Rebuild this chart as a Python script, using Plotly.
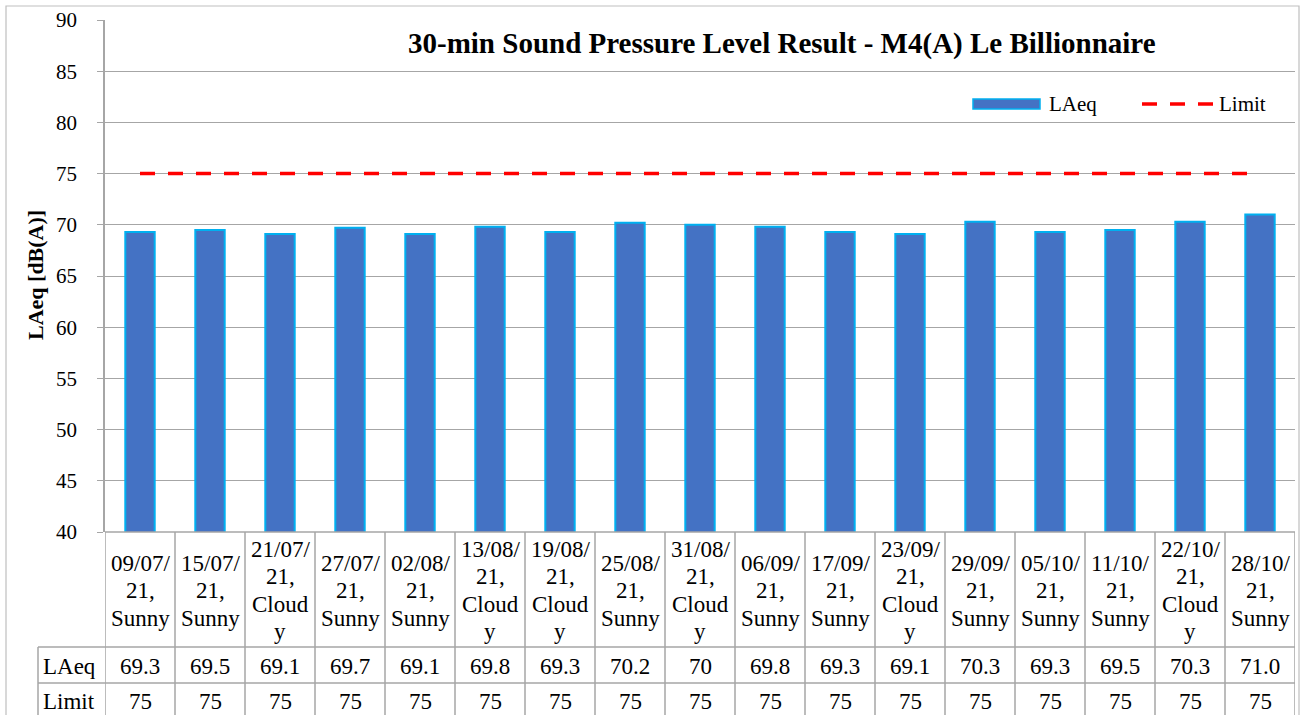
import plotly.graph_objects as go

# ---------------- data ----------------
dates = ["09/07/21", "15/07/21", "21/07/21", "27/07/21", "02/08/21", "13/08/21",
         "19/08/21", "25/08/21", "31/08/21", "06/09/21", "17/09/21", "23/09/21",
         "29/09/21", "05/10/21", "11/10/21", "22/10/21", "28/10/21"]
weather = ["Sunny", "Sunny", "Cloudy", "Sunny", "Sunny", "Cloudy", "Cloudy", "Sunny",
           "Cloudy", "Sunny", "Sunny", "Cloudy", "Sunny", "Sunny", "Sunny", "Cloudy", "Sunny"]
laeq = [69.3, 69.5, 69.1, 69.7, 69.1, 69.8, 69.3, 70.2, 70.0, 69.8, 69.3, 69.1,
        70.3, 69.3, 69.5, 70.3, 71.0]
laeq_text = ["69.3", "69.5", "69.1", "69.7", "69.1", "69.8", "69.3", "70.2", "70",
             "69.8", "69.3", "69.1", "70.3", "69.3", "69.5", "70.3", "71.0"]
limit = [75] * 17
y_ticks = [40, 45, 50, 55, 60, 65, 70, 75, 80, 85, 90]

categories = [f"{d}, {w}" for d, w in zip(dates, weather)]
n = len(categories)

# ---------------- geometry helpers ----------------
FIG_W, FIG_H = 1305, 715
L, R, T, B = 105, 1295, 20, 532
PW, PH = R - L, B - T


def px2x(px):
    return (px - L) / PW


def py2y(py):
    return (B - py) / PH


FONT = "Liberation Serif, Times New Roman, serif"
GRID = "#A6A6A6"
BAR_FILL = "#4472C4"
BAR_LINE = "#00B0F0"

fig = go.Figure()

fig.add_trace(go.Bar(
    x=categories, y=laeq, name="LAeq", width=0.42,
    marker=dict(color=BAR_FILL, line=dict(color=BAR_LINE, width=2)),
    showlegend=False, hoverinfo="x+y",
))
fig.add_trace(go.Scatter(
    x=categories, y=limit, name="Limit", mode="lines",
    line=dict(color="#FF0000", width=3.5, dash="15px,13px"),
    showlegend=False, hoverinfo="x+y",
))

shapes = []
annotations = []

# outer chart border
shapes.append(dict(type="rect", xref="paper", yref="paper",
                   x0=px2x(6), x1=px2x(1299), y0=py2y(730), y1=py2y(6),
                   line=dict(color="#BFBFBF", width=1.2), fillcolor="rgba(0,0,0,0)",
                   layer="below"))

# data table grid
row1_top, row2_top, row3_top, table_bot = 532, 647, 683, 730
for i in range(n + 1):
    shapes.append(dict(type="line", xref="x", yref="paper",
                       x0=i - 0.5, x1=i - 0.5, y0=py2y(row1_top), y1=py2y(table_bot),
                       line=dict(color=GRID, width=1.5)))
for yy in (row2_top, row3_top):
    shapes.append(dict(type="line", xref="paper", yref="paper",
                       x0=px2x(38), x1=px2x(R), y0=py2y(yy), y1=py2y(yy),
                       line=dict(color=GRID, width=1.5)))
shapes.append(dict(type="line", xref="paper", yref="paper",
                   x0=px2x(38), x1=px2x(38), y0=py2y(row2_top), y1=py2y(table_bot),
                   line=dict(color=GRID, width=1.5)))
shapes.append(dict(type="line", xref="paper", yref="paper",
                   x0=px2x(L), x1=px2x(R), y0=py2y(B), y1=py2y(B),
                   line=dict(color=GRID, width=1.5)))

# category header cells (wrapped text)
LINE_H = 27.5
hdr_center = (row1_top + row2_top) / 2 + 1
for cat, d, w in zip(categories, dates, weather):
    lines = [d[:6], d[6:] + ","]
    if w == "Cloudy":
        lines += ["Cloud", "y"]
    else:
        lines += [w]
    k = len(lines)
    for j, t in enumerate(lines):
        cy = hdr_center + (j - (k - 1) / 2) * LINE_H
        annotations.append(dict(x=cat, y=py2y(cy), xref="x", yref="paper", text=t,
                                showarrow=False, xanchor="center", yanchor="middle",
                                font=dict(family=FONT, size=23, color="#000000")))

# value rows
r2c = (row2_top + row3_top) / 2 + 1
r3c = row3_top + 18
for cat, vt, lv in zip(categories, laeq_text, limit):
    annotations.append(dict(x=cat, y=py2y(r2c), xref="x", yref="paper", text=vt,
                            showarrow=False, xanchor="center", yanchor="middle",
                            font=dict(family=FONT, size=23, color="#000000")))
    annotations.append(dict(x=cat, y=py2y(r3c), xref="x", yref="paper", text=str(lv),
                            showarrow=False, xanchor="center", yanchor="middle",
                            font=dict(family=FONT, size=23, color="#000000")))
annotations.append(dict(x=px2x(41), y=py2y(r2c), xref="paper", yref="paper", text="LAeq",
                        showarrow=False, xanchor="left", yanchor="middle",
                        font=dict(family=FONT, size=23, color="#000000")))
annotations.append(dict(x=px2x(41), y=py2y(r3c), xref="paper", yref="paper", text="Limit",
                        showarrow=False, xanchor="left", yanchor="middle",
                        font=dict(family=FONT, size=23, color="#000000")))

# y-axis title
annotations.append(dict(x=px2x(35), y=py2y(275), xref="paper", yref="paper",
                        text="<b>LAeq [dB(A)]</b>", textangle=-90, showarrow=False,
                        xanchor="center", yanchor="middle",
                        font=dict(family=FONT, size=22, color="#000000")))

# chart title
annotations.append(dict(x=px2x(782), y=py2y(43), xref="paper", yref="paper",
                        text="<b>30-min Sound Pressure Level Result - M4(A) Le Billionnaire</b>",
                        showarrow=False, xanchor="center", yanchor="middle",
                        font=dict(family=FONT, size=29, color="#000000")))

# custom legend
leg_y = 104
shapes.append(dict(type="rect", xref="paper", yref="paper",
                   x0=px2x(973), x1=px2x(1040), y0=py2y(109), y1=py2y(99),
                   fillcolor=BAR_FILL, line=dict(color=BAR_LINE, width=1.5)))
annotations.append(dict(x=px2x(1047), y=py2y(leg_y), xref="paper", yref="paper", text="LAeq",
                        showarrow=False, xanchor="left", yanchor="middle",
                        font=dict(family=FONT, size=21, color="#000000")))
shapes.append(dict(type="line", xref="paper", yref="paper",
                   x0=px2x(1142), x1=px2x(1213), y0=py2y(leg_y), y1=py2y(leg_y),
                   line=dict(color="#FF0000", width=3.5, dash="15px,13px")))
annotations.append(dict(x=px2x(1217), y=py2y(leg_y), xref="paper", yref="paper", text="Limit",
                        showarrow=False, xanchor="left", yanchor="middle",
                        font=dict(family=FONT, size=21, color="#000000")))

fig.update_layout(
    width=FIG_W, height=FIG_H, autosize=False,
    margin=dict(l=L, r=FIG_W - R, t=T, b=FIG_H - B, pad=0),
    paper_bgcolor="white", plot_bgcolor="white",
    showlegend=False,
    font=dict(family=FONT),
    shapes=shapes, annotations=annotations,
    xaxis=dict(type="category", categoryorder="array", categoryarray=categories,
               range=[-0.5, n - 0.5], showticklabels=False, showgrid=False,
               zeroline=False, showline=False, ticks="", fixedrange=True,
               automargin=False),
    yaxis=dict(range=[40, 90], tickvals=y_ticks, showgrid=True, gridcolor=GRID,
               gridwidth=1.3, zeroline=False, showline=True, linecolor=GRID,
               linewidth=1.5, ticks="outside", ticklen=6, tickcolor=GRID,
               tickwidth=1.3, ticklabelstandoff=16, automargin=False,
               tickfont=dict(family=FONT, size=21, color="#000000")),
    bargap=0.58,
)

fig.write_html(
    "out.html",
    config={"displayModeBar": False},
    post_script="document.body.style.margin='0';document.body.style.overflow='hidden';",
)
